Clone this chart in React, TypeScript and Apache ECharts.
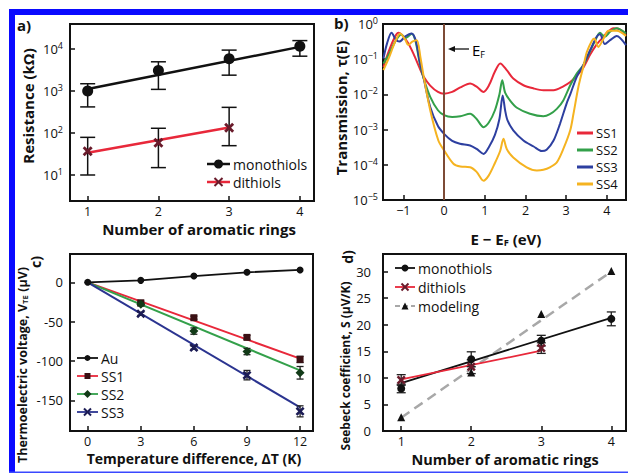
import React, { useEffect, useRef } from 'react';
import * as echarts from 'echarts';

// ---------- Panel a: resistance vs rings (kΩ) ----------
const ringsMono = [1, 2, 3, 4];
const monoR = [1000, 3100, 5900, 11800];
const monoRLow = [420, 1100, 2400, 6800];
const monoRHigh = [1500, 5000, 9500, 16000];
const monoRFitX = [1, 4];
const monoRFitY = [1120, 11350];
const ringsDi = [1, 2, 3];
const diR = [37, 59, 134];
const diRLow = [10, 15, 50];
const diRHigh = [79, 130, 410];
const diRFitX = [1, 3];
const diRFitY = [34, 136];
const resExpTicks = [1, 2, 3, 4];
const ringTicks = [1, 2, 3, 4];

// ---------- Panel b: transmission (log10 τ) vs E - EF ----------
const ss1E = [-1.49, -1.35, -1.2, -1.12, -1.0, -0.88, -0.75, -0.6, -0.5, -0.34, -0.15, 0, 0.2, 0.4, 0.64, 0.8, 0.97, 1.1, 1.25, 1.38, 1.54, 1.7, 1.95, 2.2, 2.44, 2.69, 2.93, 3.1, 3.26, 3.42, 3.59, 3.75, 3.87, 4.0, 4.16, 4.32, 4.47];
const ss1L = [-1.22, -0.75, -0.35, -0.25, -0.35, -0.55, -0.85, -1.25, -1.5, -1.75, -1.93, -1.98, -1.93, -1.8, -1.69, -1.78, -1.93, -1.75, -1.35, -1.12, -1.31, -1.55, -1.74, -1.83, -1.88, -1.88, -1.77, -1.65, -1.47, -1.24, -0.87, -0.58, -0.42, -0.25, -0.12, -0.15, -0.31];
const ss2E = [-1.49, -1.35, -1.2, -1.05, -0.95, -0.88, -0.79, -0.7, -0.6, -0.5, -0.34, -0.15, 0, 0.2, 0.4, 0.64, 0.8, 0.97, 1.1, 1.25, 1.36, 1.43, 1.5, 1.62, 1.79, 2.11, 2.44, 2.6, 2.77, 2.93, 3.1, 3.26, 3.42, 3.59, 3.71, 3.83, 3.95, 4.08, 4.24, 4.47];
const ss2L = [-1.12, -0.85, -0.5, -0.3, -0.4, -0.35, -0.28, -0.5, -1.1, -1.55, -2.07, -2.45, -2.59, -2.64, -2.62, -2.55, -2.7, -2.93, -2.8, -2.45, -2.0, -1.6, -1.95, -2.17, -2.38, -2.55, -2.62, -2.56, -2.41, -2.17, -1.74, -1.41, -1.17, -0.77, -0.48, -0.25, -0.36, -0.22, -0.12, -0.27];
const ss3E = [-1.49, -1.4, -1.29, -1.18, -1.1, -0.95, -0.8, -0.7, -0.6, -0.5, -0.34, -0.15, 0, 0.2, 0.39, 0.64, 0.8, 0.97, 1.1, 1.25, 1.36, 1.44, 1.5, 1.56, 1.7, 1.95, 2.2, 2.4, 2.52, 2.69, 2.85, 3.01, 3.1, 3.26, 3.42, 3.59, 3.75, 3.83, 3.95, 4.08, 4.24, 4.47];
const ss3L = [-0.98, -0.55, -0.25, -0.45, -0.5, -0.35, -0.27, -0.45, -1.05, -1.55, -2.36, -2.9, -3.12, -3.32, -3.4, -3.45, -3.55, -3.69, -3.5, -3.15, -2.7, -2.03, -2.45, -2.74, -3.02, -3.31, -3.48, -3.61, -3.57, -3.31, -2.83, -2.26, -2.0, -1.5, -1.17, -0.74, -0.36, -0.29, -0.57, -0.46, -0.34, -0.6];
const ss4E = [-1.49, -1.35, -1.2, -1.08, -0.95, -0.88, -0.78, -0.67, -0.58, -0.5, -0.34, -0.14, 0, 0.23, 0.4, 0.64, 0.8, 0.97, 1.1, 1.25, 1.38, 1.46, 1.54, 1.7, 2.03, 2.28, 2.44, 2.6, 2.77, 2.93, 3.1, 3.18, 3.3, 3.42, 3.51, 3.63, 3.69, 3.79, 3.92, 4.04, 4.24, 4.47];
const ss4L = [-1.31, -0.95, -0.5, -0.27, -0.45, -0.6, -0.5, -0.46, -0.95, -1.5, -2.45, -3.31, -3.59, -3.97, -4.05, -4.07, -4.2, -4.45, -4.3, -3.95, -3.6, -3.26, -3.55, -3.79, -4.07, -4.16, -4.14, -4.07, -3.93, -3.55, -3.02, -2.55, -1.79, -1.22, -0.79, -0.48, -0.41, -0.65, -0.41, -0.19, -0.19, -0.34];
const energyTicks = [-1, 0, 1, 2, 3, 4];
const transExpTicks = [-5, -4, -3, -2, -1, 0];

// ---------- Panel c: thermoelectric voltage vs ΔT ----------
const dT = [0, 3, 6, 9, 12];
const vAu = [0, 2.5, 8, 12.7, 15.7];
const vSS1 = [0, -26, -45, -70, -98];
const eSS1 = [0, 2, 2, 2.5, 4];
const vSS2 = [0, -28, -62, -88, -115];
const eSS2 = [0, 2, 4, 4, 8];
const vSS3 = [0, -40, -83, -118, -164];
const eSS3 = [0, 2, 2, 6, 7];
const fitDT = [0, 12];
const fitSS1 = [0, -97];
const fitSS2 = [0, -112];
const fitSS3 = [0, -159];
const dTTicks = [0, 3, 6, 9, 12];
const voltTicks = [-150, -100, -50, 0];

// ---------- Panel d: Seebeck coefficient vs rings ----------
const sMono = [8.0, 13.5, 17.0, 21.1];
const sMonoErr = [0.8, 1.4, 1.0, 1.3];
const sMonoFitY = [9.0, 21.3];
const sDi = [9.6, 12.1, 15.6];
const sDiErr = [1.0, 1.3, 1.0];
const sDiFitY = [9.7, 15.1];
const sModel = [2.6, 11.0, 22.0, 30.1];
const sModelFitY = [2.5, 30.0];
const seebeckTicks = [0, 5, 10, 15, 20, 25, 30];

const FONT = '"Open Sans", "Noto Sans", sans-serif';
const INK = '#111';
const RED = '#e8283a';
const GREEN = '#33a04a';
const NAVY = '#2b3490';
const ORANGE = '#f5b320';
const BLUE = '#2d3fa0';
const SYM_X = 'path://M2,0L5,3L8,0L10,2L7,5L10,8L8,10L5,7L2,10L0,8L3,5L0,2Z';

const sup = (n: number) => (n < 0 ? '−' + Math.abs(n) : String(n));
const powRich = {
  b: { fontSize: 13, lineHeight: 16, fontFamily: FONT, color: INK },
  s: { fontSize: 9, lineHeight: 7, verticalAlign: 'top', fontFamily: FONT, color: INK },
};

function xAxis(gi: number, min: number, max: number, ticks: number[], fmt?: (v: number) => string) {
  const label: any = { show: true, color: INK, fontSize: 12.5, lineHeight: 12, fontFamily: FONT, margin: 4, customValues: ticks };
  if (fmt) label.formatter = fmt;
  return {
    type: 'value', gridIndex: gi, min, max,
    axisLine: { show: true, onZero: false, lineStyle: { color: INK, width: 2 } },
    axisTick: { show: true, inside: true, length: 5, lineStyle: { color: INK, width: 1.5 }, customValues: ticks },
    axisLabel: label,
    splitLine: { show: false },
  };
}
function yAxis(gi: number, min: number, max: number, ticks: number[], label: any) {
  return {
    type: 'value', gridIndex: gi, min, max,
    axisLine: { show: true, onZero: false, lineStyle: { color: INK, width: 2 } },
    axisTick: { show: true, inside: true, length: 5, lineStyle: { color: INK, width: 1.5 }, customValues: ticks },
    axisLabel: { show: true, color: INK, fontSize: 13, lineHeight: 13, fontFamily: FONT, customValues: ticks, ...label },
    splitLine: { show: false },
  };
}

function errSeries(ai: number, data: number[][], cap: number, color: string, lw: number) {
  return {
    type: 'custom', xAxisIndex: ai, yAxisIndex: ai, data, z: 3, silent: true,
    encode: { x: 0, y: [1, 2] },
    renderItem: (_p: any, api: any) => {
      const x = api.value(0);
      const lo = api.coord([x, api.value(1)]);
      const hi = api.coord([x, api.value(2)]);
      const st = { stroke: color, lineWidth: lw, fill: 'none' };
      return {
        type: 'group',
        children: [
          { type: 'line', shape: { x1: lo[0], y1: lo[1], x2: hi[0], y2: hi[1] }, style: st },
          { type: 'line', shape: { x1: lo[0] - cap / 2, y1: lo[1], x2: lo[0] + cap / 2, y2: lo[1] }, style: st },
          { type: 'line', shape: { x1: hi[0] - cap / 2, y1: hi[1], x2: hi[0] + cap / 2, y2: hi[1] }, style: st },
        ],
      };
    },
  };
}

function fitLine(ai: number, xs: number[], ys: number[], color: string, width: number, type: any = 'solid') {
  return {
    type: 'line', xAxisIndex: ai, yAxisIndex: ai, data: xs.map((x, i) => [x, ys[i]]),
    symbol: 'none', showSymbol: false, silent: true, z: 2,
    lineStyle: { color, width, type },
  };
}
function points(ai: number, xs: number[], ys: number[], symbol: string, size: number, color: string) {
  return {
    type: 'scatter', xAxisIndex: ai, yAxisIndex: ai, data: xs.map((x, i) => [x, ys[i]]),
    symbol, symbolSize: size, itemStyle: { color, opacity: 1 }, z: 4, silent: true,
  };
}

// legend/graphic helpers
const lineEl = (x1: number, y1: number, x2: number, y2: number, color: string, w: number, dash?: number[]) => ({
  type: 'line', silent: true, shape: { x1, y1, x2, y2 }, style: { stroke: color, lineWidth: w, lineDash: dash },
});
function markEl(kind: string, cx: number, cy: number, s: number, color: string): any[] {
  const h = s / 2;
  switch (kind) {
    case 'circle': return [{ type: 'circle', shape: { cx, cy, r: h }, style: { fill: color } }];
    case 'square': return [{ type: 'rect', shape: { x: cx - h, y: cy - h, width: s, height: s }, style: { fill: color } }];
    case 'diamond': return [{ type: 'polygon', shape: { points: [[cx, cy - h], [cx + h, cy], [cx, cy + h], [cx - h, cy]] }, style: { fill: color } }];
    case 'triangle': return [{ type: 'polygon', shape: { points: [[cx, cy - h], [cx + h, cy + h], [cx - h, cy + h]] }, style: { fill: color } }];
    default: return [lineEl(cx - h, cy - h, cx + h, cy + h, color, 2), lineEl(cx - h, cy + h, cx + h, cy - h, color, 2)];
  }
}
const textEl = (x: number, y: number, text: string, size: number, extra: any = {}) => ({
  type: 'text', x, y, silent: true,
  style: { text, fontSize: size, fontFamily: FONT, fill: INK, align: 'left', verticalAlign: 'middle', lineHeight: size, ...extra },
});
function legendItem(x1: number, x2: number, y: number, lc: string, lw: number, kind: string | null, mc: string, ms: number, label: string, tx: number, dash?: number[], fs = 14) {
  const els: any[] = [lineEl(x1, y, x2, y, lc, lw, dash)];
  if (kind) els.push(...markEl(kind, (x1 + x2) / 2, y, ms, mc));
  els.push(textEl(tx, y, label, fs));
  return els;
}
const rotTitle = (x: number, y: number, text: string, rich: any) => ({
  type: 'text', x, y, rotation: Math.PI / 2, silent: true,
  style: { text, rich, align: 'center', verticalAlign: 'middle', fill: INK },
});
const flatTitle = (x: number, y: number, text: string, rich: any) => ({
  type: 'text', x, y, silent: true,
  style: { text, rich, align: 'center', verticalAlign: 'middle', fill: INK },
});
const tRich = (size: number) => ({
  t: { fontSize: size, fontWeight: 'bold', fontFamily: FONT, color: INK, lineHeight: size + 1 },
  sb: { fontSize: size * 0.62, fontWeight: 'bold', fontFamily: FONT, color: INK, lineHeight: 5, verticalAlign: 'bottom' },
});

function buildOption(): any {
  const log = Math.log10;
  const grids = [
    { left: 70, top: 24, width: 244, height: 177 },
    { left: 383, top: 24, width: 243, height: 176 },
    { left: 70, top: 254, width: 243, height: 177 },
    { left: 383, top: 254, width: 243, height: 177 },
  ].map((g) => ({ ...g, show: true, borderColor: INK, borderWidth: 2, backgroundColor: 'transparent' }));

  const powFmt = (v: number) => `{b|10}{s|${sup(v)}}`;

  const xAxes = [
    xAxis(0, 0.75, 4.2, ringTicks),
    xAxis(1, -1.5, 4.47, energyTicks, (v: number) => (v < 0 ? '−' + Math.abs(v) : String(v))),
    xAxis(2, -1, 12.73, dTTicks),
    xAxis(3, 0.74, 4.21, ringTicks),
  ];
  const yAxes = [
    yAxis(0, 0.38, 4.6, resExpTicks, { formatter: powFmt, rich: powRich, margin: 7 }),
    yAxis(1, -5, 0, transExpTicks, { formatter: powFmt, rich: powRich, margin: 5 }),
    yAxis(2, -189, 36, voltTicks, { margin: 7 }),
    yAxis(3, 0, 33.3, seebeckTicks, { margin: 12 }),
  ];

  const curve = (E: number[], L: number[], color: string, name: string, extra: any = {}) => ({
    type: 'line', name, xAxisIndex: 1, yAxisIndex: 1, data: E.map((e, i) => [e, L[i]]),
    smooth: 0.3, symbol: 'none', showSymbol: false, silent: true, z: 2,
    lineStyle: { color, width: 2 }, ...extra,
  });

  const series: any[] = [
    // panel a
    fitLine(0, monoRFitX, monoRFitY.map(log), INK, 2.5),
    fitLine(0, diRFitX, diRFitY.map(log), RED, 2.5),
    errSeries(0, ringsMono.map((r, i) => [r, log(monoRLow[i]), log(monoRHigh[i])]), 15, INK, 1.5),
    errSeries(0, ringsDi.map((r, i) => [r, log(diRLow[i]), log(diRHigh[i])]), 15, INK, 1.5),
    points(0, ringsMono, monoR.map(log), 'circle', 11, INK),
    points(0, ringsDi, diR.map(log), SYM_X, 10, '#6a1b2b'),
    // panel b
    curve(ss1E, ss1L, RED, 'SS1', {
      markLine: {
        symbol: 'none', silent: true, label: { show: false },
        lineStyle: { color: '#7d4b36', width: 2, type: 'solid' },
        data: [{ xAxis: 0 }],
      },
    }),
    curve(ss2E, ss2L, GREEN, 'SS2'),
    curve(ss3E, ss3L, BLUE, 'SS3'),
    curve(ss4E, ss4L, ORANGE, 'SS4'),
    // panel c
    {
      type: 'line', xAxisIndex: 2, yAxisIndex: 2, data: dT.map((x, i) => [x, vAu[i]]),
      symbol: 'circle', symbolSize: 7, silent: true, z: 4,
      lineStyle: { color: INK, width: 1.8 }, itemStyle: { color: INK },
    },
    fitLine(2, fitDT, fitSS1, RED, 2),
    fitLine(2, fitDT, fitSS2, GREEN, 2),
    fitLine(2, fitDT, fitSS3, NAVY, 2),
    errSeries(2, dT.slice(1).map((x, i) => [x, vSS1[i + 1] - eSS1[i + 1], vSS1[i + 1] + eSS1[i + 1]]), 7, '#222', 1.3),
    errSeries(2, dT.slice(1).map((x, i) => [x, vSS2[i + 1] - eSS2[i + 1], vSS2[i + 1] + eSS2[i + 1]]), 7, '#222', 1.3),
    errSeries(2, dT.slice(1).map((x, i) => [x, vSS3[i + 1] - eSS3[i + 1], vSS3[i + 1] + eSS3[i + 1]]), 7, '#222', 1.3),
    points(2, dT.slice(1), vSS1.slice(1), 'rect', 7, '#3a1014'),
    points(2, dT.slice(1), vSS2.slice(1), 'diamond', 9, '#123a18'),
    points(2, dT.slice(1), vSS3.slice(1), SYM_X, 9, '#1c1c55'),
    // panel d
    fitLine(3, [1, 4], sModelFitY, '#a8a8a8', 2.5, [10, 6]),
    fitLine(3, [1, 4], sMonoFitY, INK, 1.8),
    fitLine(3, [1, 3], sDiFitY, RED, 1.8),
    errSeries(3, ringsMono.map((r, i) => [r, sMono[i] - sMonoErr[i], sMono[i] + sMonoErr[i]]), 9, '#222', 1.3),
    errSeries(3, ringsDi.map((r, i) => [r, sDi[i] - sDiErr[i], sDi[i] + sDiErr[i]]), 9, '#222', 1.3),
    points(3, ringsMono, sMono, 'circle', 8, INK),
    points(3, ringsDi, sDi, SYM_X, 9, '#6a1b2b'),
    points(3, ringsMono, sModel, 'triangle', 8, INK),
  ];

  const g: any[] = [];
  // blue frame of the figure
  g.push({ type: 'rect', silent: true, shape: { x: 9, y: 9, width: 619, height: 6 }, style: { fill: '#0a0aff' } });
  g.push({ type: 'rect', silent: true, shape: { x: 9, y: 9, width: 6, height: 464 }, style: { fill: '#0a0aff' } });
  g.push({ type: 'rect', silent: true, shape: { x: 9, y: 471.5, width: 619, height: 1.5 }, style: { fill: '#3a48ff' } });

  // panel labels
  g.push(textEl(17, 25, 'a)', 15, { fontWeight: 'bold' }));
  g.push(textEl(334, 23, 'b)', 15, { fontWeight: 'bold' }));
  g.push({ ...textEl(35.5, 262, 'c)', 14, { fontWeight: 'bold', align: 'center', lineHeight: 11 }), rotation: Math.PI / 2 });
  g.push({ ...textEl(347, 257, 'd)', 14, { fontWeight: 'bold', align: 'center', lineHeight: 11 }), rotation: Math.PI / 2 });

  // axis titles
  g.push(rotTitle(28, 106, '{t|Resistance (kΩ)}', tRich(15)));
  g.push(flatTitle(199, 228.5, '{t|Number of aromatic rings}', tRich(15)));
  g.push(rotTitle(341, 108, '{t|Transmission, τ(E)}', tRich(15)));
  g.push(flatTitle(506, 239, '{t|E − E}{sb|F}{t| (eV)}', tRich(15)));
  g.push(rotTitle(22, 365, '{t|Thermoelectric voltage, V}{sb|TE}{t| (μV)}', tRich(12.5)));
  g.push(flatTitle(194, 458, '{t|Temperature difference, ΔT (K)}', tRich(14)));
  g.push(rotTitle(345, 366, '{t|Seebeck coefficient, S (μV/K)}', tRich(12)));
  g.push(flatTitle(505, 459, '{t|Number of aromatic rings}', tRich(14.5)));

  // E_F annotation
  g.push(lineEl(453, 49, 469, 49, INK, 1.3));
  g.push({ type: 'polygon', silent: true, shape: { points: [[448, 49], [455, 46], [455, 52]] }, style: { fill: INK } });
  g.push({
    type: 'text', x: 472, y: 50, silent: true,
    style: {
      text: '{e|E}{f|F}', align: 'left', verticalAlign: 'middle',
      rich: {
        e: { fontSize: 15, fontFamily: FONT, color: INK, lineHeight: 18 },
        f: { fontSize: 9, fontFamily: FONT, color: INK, lineHeight: 5, verticalAlign: 'bottom' },
      },
    },
  });

  // legends
  g.push(...legendItem(207, 230, 164, INK, 2.5, 'circle', INK, 9, 'monothiols', 233));
  g.push(...legendItem(207, 230, 182, RED, 2.5, 'cross', '#6a1b2b', 8, 'dithiols', 233));

  g.push(...legendItem(577, 593, 133, RED, 3, null, INK, 0, 'SS1', 596, undefined, 13));
  g.push(...legendItem(577, 593, 150, GREEN, 3, null, INK, 0, 'SS2', 596, undefined, 13));
  g.push(...legendItem(577, 593, 167, BLUE, 3, null, INK, 0, 'SS3', 596, undefined, 13));
  g.push(...legendItem(577, 593, 184, ORANGE, 3, null, INK, 0, 'SS4', 596, undefined, 13));

  g.push(...legendItem(77, 98, 358, INK, 1.8, 'circle', INK, 6, 'Au', 101));
  g.push(...legendItem(77, 98, 376, RED, 1.8, 'square', '#3a1014', 6, 'SS1', 101));
  g.push(...legendItem(77, 98, 394, GREEN, 1.8, 'diamond', '#123a18', 8, 'SS2', 101));
  g.push(...legendItem(77, 98, 412, NAVY, 1.8, 'cross', '#1c1c55', 7, 'SS3', 101));

  g.push(...legendItem(395, 415, 268, INK, 1.8, 'circle', INK, 7, 'monothiols', 418));
  g.push(...legendItem(395, 415, 287, RED, 1.8, 'cross', '#6a1b2b', 7, 'dithiols', 418));
  g.push(...legendItem(395, 415, 306, '#a8a8a8', 2, 'triangle', INK, 7, 'modeling', 418, [5, 3]));

  return {
    animation: false,
    backgroundColor: '#ffffff',
    grid: grids,
    xAxis: xAxes,
    yAxis: yAxes,
    series,
    graphic: g,
  };
}

export default function App() {
  const ref = useRef<HTMLDivElement>(null);
  useEffect(() => {
    if (!ref.current) return;
    const chart = echarts.init(ref.current, null, { renderer: 'svg' });
    chart.setOption(buildOption());
    return () => chart.dispose();
  }, []);
  return (
    <div
      ref={ref}
      style={{ position: 'fixed', left: 0, top: 0, width: 628, height: 474, background: '#fff' }}
    />
  );
}
